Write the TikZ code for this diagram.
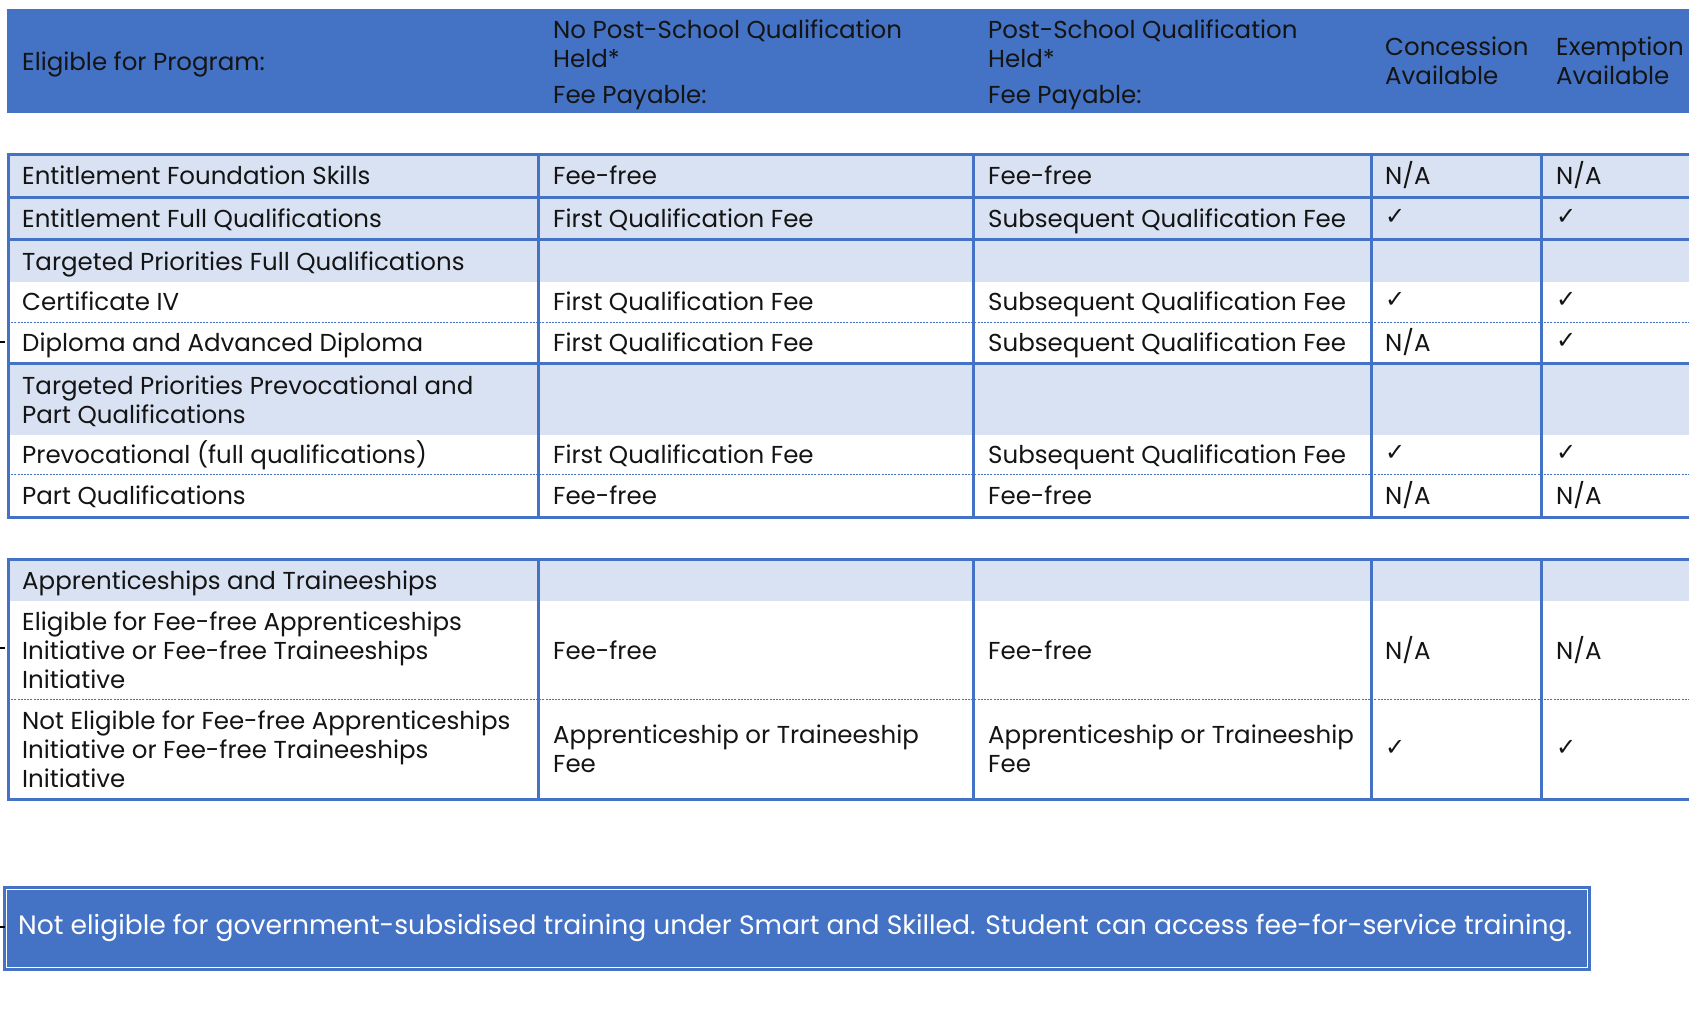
\documentclass[tikz,border=0pt]{standalone}
\usepackage{fontspec}
\setmainfont{Poppins}
\newfontfamily\symfont{DejaVu Sans}
\definecolor{blu}{HTML}{4472C4}
\definecolor{lite}{HTML}{D9E2F3}
\definecolor{txt}{HTML}{141414}
\tikzset{
  cell/.style={anchor=base west, inner sep=0pt, align=left, text=txt, font=\fontsize{24.5}{29}\selectfont},
  chk/.style={anchor=base west, inner sep=0pt, text=txt, font=\symfont\fontsize{24}{26}\selectfont},
  rule/.style={draw=blu, line width=3pt, line cap=rect},
  dotrule/.style={draw=blu, line width=1pt, dash pattern=on 2pt off 1.2pt},
  foot/.style={anchor=base west, inner sep=0pt, text=white, font=\fontsize{26.6}{30}\selectfont},
  tick/.style={draw=black, line width=2.6pt}
}
\begin{document}
\begin{tikzpicture}[x=1pt,y=-1pt]
\useasboundingbox (0,0) rectangle (1689,1012);
\fill[white] (0,0) rectangle (1689,1012);

% ---------- header band ----------
\fill[blu] (7,9) rectangle (1689,113);
\node[cell] (hA) at (22,70) {Eligible for Program:};
\node[cell] (hB1) at (553,67) {No Post-School Qualification\\Held*};
\node[cell] (hB2) at (553,103) {Fee Payable:};
\node[cell] (hC1) at (988,67) {Post-School Qualification\\Held*};
\node[cell] (hC2) at (988,103) {Fee Payable:};
\node[cell] (hD) at (1385,84) {Concession\\Available};
\node[cell] (hE) at (1556,84) {Exemption\\Available};

% ---------- table 1 ----------
\fill[lite] (8,154) rectangle (1689,282);
\fill[lite] (8,363) rectangle (1689,435);
\draw[dotrule] (8,322) -- (1689,322);
\draw[dotrule] (8,474) -- (1689,474);
\foreach \yy in {154,197,239,363,517} \draw[rule] (8,\yy) -- (1689,\yy);
\foreach \xx in {8,538,973,1371,1541} \draw[rule] (\xx,154) -- (\xx,517);

\node[cell] (a1) at (22,184) {Entitlement Foundation Skills};
\node[cell] (b1) at (553,184) {Fee-free};
\node[cell] (c1) at (988,184) {Fee-free};
\node[cell] (d1) at (1385,184) {N/A};
\node[cell] (e1) at (1556,184) {N/A};

\node[cell] (a2) at (22,227) {Entitlement Full Qualifications};
\node[cell] (b2) at (553,227) {First Qualification Fee};
\node[cell] (c2) at (988,227) {Subsequent Qualification Fee};
\node[chk] (d2) at (1385,224) {✓};
\node[chk] (e2) at (1556,224) {✓};

\node[cell] (a3) at (22,270) {Targeted Priorities Full Qualifications};

\node[cell] (a4) at (22,310) {Certificate IV};
\node[cell] (b4) at (553,310) {First Qualification Fee};
\node[cell] (c4) at (988,310) {Subsequent Qualification Fee};
\node[chk] (d4) at (1385,307) {✓};
\node[chk] (e4) at (1556,307) {✓};

\node[cell] (a5) at (22,351) {Diploma and Advanced Diploma};
\node[cell] (b5) at (553,351) {First Qualification Fee};
\node[cell] (c5) at (988,351) {Subsequent Qualification Fee};
\node[cell] (d5) at (1385,351) {N/A};
\node[chk] (e5) at (1556,348) {✓};

\node[cell] (a6) at (22,423) {Targeted Priorities Prevocational and\\Part Qualifications};

\node[cell] (a7) at (22,463) {Prevocational (full qualifications)};
\node[cell] (b7) at (553,463) {First Qualification Fee};
\node[cell] (c7) at (988,463) {Subsequent Qualification Fee};
\node[chk] (d7) at (1385,460) {✓};
\node[chk] (e7) at (1556,460) {✓};

\node[cell] (a8) at (22,504) {Part Qualifications};
\node[cell] (b8) at (553,504) {Fee-free};
\node[cell] (c8) at (988,504) {Fee-free};
\node[cell] (d8) at (1385,504) {N/A};
\node[cell] (e8) at (1556,504) {N/A};

% ---------- table 2 ----------
\fill[lite] (8,559) rectangle (1689,601);
\draw[dotrule] (8,699) -- (1689,699);
\foreach \yy in {559,799} \draw[rule] (8,\yy) -- (1689,\yy);
\foreach \xx in {8,538,973,1371,1541} \draw[rule] (\xx,559) -- (\xx,799);

\node[cell] (f1) at (22,589) {Apprenticeships and Traineeships};

\node[cell] (f2) at (22,688) {Eligible for Fee-free Apprenticeships\\Initiative or Fee-free Traineeships\\Initiative};
\node[cell] (g2) at (553,659) {Fee-free};
\node[cell] (h2) at (988,659) {Fee-free};
\node[cell] (i2) at (1385,659) {N/A};
\node[cell] (j2) at (1556,659) {N/A};

\node[cell] (f3) at (22,787) {Not Eligible for Fee-free Apprenticeships\\Initiative or Fee-free Traineeships\\Initiative};
\node[cell] (g3) at (553,772) {Apprenticeship or Traineeship\\Fee};
\node[cell] (h3) at (988,772) {Apprenticeship or Traineeship\\Fee};
\node[chk] (i3) at (1385,755) {✓};
\node[chk] (j3) at (1556,755) {✓};

% ---------- footer ----------
\fill[blu] (3,886) rectangle (1591,971);
\draw[white, line width=1pt] (6.5,889.5) rectangle (1587.5,967.5);
\node[foot] (ft) at (18,934) {Not eligible for government-subsidised training under Smart and Skilled. Student can access fee-for-service training.};

% ---------- small marks at left edge ----------
\draw[tick] (0,342) -- (5,342);
\draw[tick] (0,648) -- (5,648);
\draw[tick] (0,927) -- (5,927);
\end{tikzpicture}
\end{document}
